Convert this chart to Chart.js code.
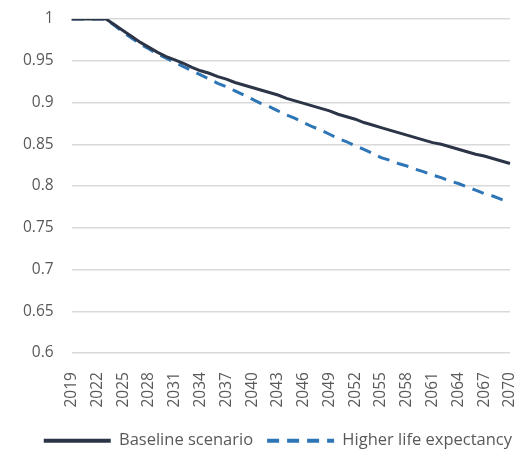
<!DOCTYPE html>
<html>
  <head>
    <title>Life expectancy scenarios</title>
    <style>
      html, body { margin: 0; padding: 0; background: #fff; }
      #wrap { width: 519px; height: 451px; }
    </style>
  </head>
  <body>
    <div id="wrap">
      <canvas id="myChart" width="519" height="451"></canvas>
    </div>

    <script src="https://cdn.jsdelivr.net/npm/chart.js"></script>
    <script>

    // data
    const years = [
      '2019','2020','2021','2022','2023','2024','2025','2026','2027','2028',
      '2029','2030','2031','2032','2033','2034','2035','2036','2037','2038',
      '2039','2040','2041','2042','2043','2044','2045','2046','2047','2048',
      '2049','2050','2051','2052','2053','2054','2055','2056','2057','2058',
      '2059','2060','2061','2062','2063','2064','2065','2066','2067','2068',
      '2069','2070'
    ];

    const baseline = [
      1.000, 1.000, 1.000, 1.000, 1.000, 0.993, 0.986, 0.979, 0.972, 0.966,
      0.960, 0.955, 0.951, 0.947, 0.942, 0.938, 0.935, 0.931, 0.928, 0.924,
      0.921, 0.918, 0.915, 0.912, 0.909, 0.905, 0.902, 0.899, 0.896, 0.893,
      0.890, 0.886, 0.883, 0.880, 0.876, 0.873, 0.870, 0.867, 0.864, 0.861,
      0.858, 0.855, 0.852, 0.850, 0.847, 0.844, 0.841, 0.838, 0.836, 0.833,
      0.830, 0.827
    ];

    const higherLife = [
      1.000, 1.000, 1.000, 1.000, 1.000, 0.992, 0.984, 0.977, 0.970, 0.964,
      0.958, 0.953, 0.948, 0.943, 0.938, 0.933, 0.928, 0.923, 0.919, 0.914,
      0.909, 0.904, 0.899, 0.895, 0.890, 0.885, 0.881, 0.876, 0.871, 0.867,
      0.862, 0.857, 0.853, 0.848, 0.844, 0.839, 0.834, 0.831, 0.827, 0.824,
      0.820, 0.817, 0.813, 0.810, 0.806, 0.803, 0.799, 0.795, 0.791, 0.788,
      0.784, 0.780
    ];

    const seriesNames = ['Baseline scenario', 'Higher life expectancy'];

    Chart.defaults.font.family = "'Open Sans', 'Noto Sans', sans-serif";
    Chart.defaults.font.size = 15;
    Chart.defaults.color = '#595959';

    const ctx = document.getElementById('myChart');

    const data = {
      labels: years,
      datasets: [
        {
          label: seriesNames[0],
          data: baseline,
          borderColor: '#2b3547',
          backgroundColor: '#2b3547',
          borderWidth: 3,
          pointRadius: 0,
          tension: 0
        },
        {
          label: seriesNames[1],
          data: higherLife,
          borderColor: '#2e75b6',
          backgroundColor: '#2e75b6',
          borderWidth: 3,
          borderDash: [12, 8],
          pointRadius: 0,
          tension: 0
        }
      ]
    };

    // legend sits a little right of the plot centre in the original
    const legendNudge = {
      id: 'legendNudge',
      afterLayout(chart) {
        chart.legend.left += 7;
        chart.legend.right += 7;
      }
    };

    const chart_config = {
      type: 'line',
      data: data,
      plugins: [legendNudge],
      options: {
        responsive: false,
        animation: false,
        layout: { padding: { left: 5, right: 0, top: 19, bottom: -8 } },
        plugins: {
          tooltip: { enabled: false },
          legend: {
            position: 'bottom',
            align: 'end',
            labels: {
              usePointStyle: true,
              pointStyle: 'line',
              pointStyleWidth: 67,
              boxHeight: 3,
              padding: 14,
              font: { size: 16.5 },
              generateLabels: (chart) => chart.data.datasets.map((ds, i) => ({
                text: ds.label,
                strokeStyle: ds.borderColor,
                fillStyle: ds.borderColor,
                lineWidth: 4,
                lineDash: ds.borderDash || [],
                pointStyle: 'line',
                datasetIndex: i,
                hidden: false,
                fontColor: '#595959'
              }))
            }
          }
        },
        scales: {
          x: {
            offset: false,
            grid: { display: false },
            border: { display: false },
            afterFit: (scale) => {
              // keep the rotated labels from pushing the plot inwards
              scale.paddingLeft = 0;
              scale.paddingRight = 9;
            },
            ticks: {
              autoSkip: false,
              maxRotation: 90,
              minRotation: 90,
              padding: 11,
              font: { size: 15.5 },
              callback: function (val, idx) {
                return idx % 3 === 0 ? this.getLabelForValue(val) : null;
              }
            }
          },
          y: {
            min: 0.6,
            max: 1,
            grid: { color: '#d9d9d9', lineWidth: 1.5, drawTicks: false },
            border: { display: false },
            afterFit: (scale) => {
              scale.paddingTop = 0;
              scale.paddingBottom = 0;
            },
            ticks: {
              stepSize: 0.05,
              padding: 18,
              font: { size: 15.5 },
              callback: (v) => String(+v.toFixed(2))
            }
          }
        }
      }
    };

    new Chart(ctx, chart_config);

    </script>
  </body>
</html>
